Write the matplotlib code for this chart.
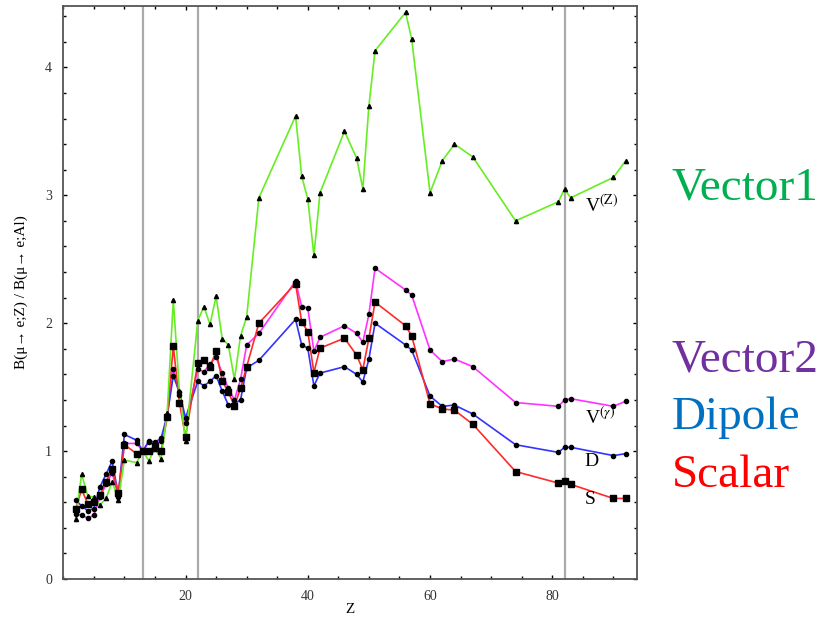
import numpy as np
import matplotlib
matplotlib.use("Agg")
import matplotlib.pyplot as plt
from matplotlib.ticker import MultipleLocator, FixedLocator

plt.rcParams['font.family'] = ['Liberation Serif', 'DejaVu Serif']
plt.rcParams['mathtext.fontset'] = 'stix'

# atomic numbers of the nuclei
Z = [2, 3, 4, 5, 6, 7, 8, 9, 10, 12, 13, 14, 15, 16, 17, 18, 19, 20, 22, 23,
     24, 25, 26, 27, 28, 29, 30, 32, 38, 39, 40, 41, 42, 46, 48, 49, 50, 51,
     56, 57, 60, 62, 64, 67, 74, 81, 82, 83, 90, 92]

# ratio B(mu->e;Z)/B(mu->e;Al) for each model
vec_z = [0.47, 0.82, 0.65, 0.64, 0.58, 0.63, 0.76, 0.62, 0.93, 0.91, 1.0, 0.925,
         1.02, 0.94, 1.30, 2.18, 1.47, 1.08, 2.02, 2.13, 1.99, 2.21, 1.88, 1.83,
         1.56, 1.90, 2.05, 2.98, 3.62, 3.15, 2.97, 2.53, 3.02, 3.50, 3.29, 3.05,
         3.70, 4.13, 4.43, 4.22, 3.02, 3.27, 3.40, 3.30, 2.80, 2.95, 3.05, 2.98,
         3.14, 3.27]
vec_g = [0.51, 0.50, 0.475, 0.50, 0.64, 0.74, 0.83, 0.64, 1.06, 1.06, 1.0, 1.07,
         1.05, 1.08, 1.27, 1.64, 1.44, 1.22, 1.64, 1.62, 1.68, 1.735, 1.61, 1.49,
         1.40, 1.56, 1.83, 1.92, 2.33, 2.13, 2.12, 1.78, 1.89, 1.98, 1.92, 1.85,
         2.07, 2.43, 2.26, 2.22, 1.79, 1.70, 1.72, 1.66, 1.38, 1.35, 1.40, 1.41,
         1.35, 1.39]
dipole = [0.62, 0.57, 0.535, 0.55, 0.72, 0.82, 0.92, 0.66, 1.13, 1.085, 1.0, 1.08,
          1.07, 1.10, 1.28, 1.59, 1.46, 1.26, 1.545, 1.51, 1.545, 1.59, 1.47, 1.36,
          1.37, 1.40, 1.65, 1.71, 2.03, 1.83, 1.805, 1.51, 1.61, 1.66, 1.60, 1.54,
          1.72, 2.00, 1.83, 1.79, 1.43, 1.35, 1.36, 1.29, 1.05, 0.99, 1.03, 1.03,
          0.965, 0.98]
scalar = [0.545, 0.70, 0.59, 0.605, 0.657, 0.76, 0.858, 0.675, 1.05, 0.98, 1.0, 1.0,
          1.04, 1.0, 1.265, 1.82, 1.38, 1.11, 1.69, 1.71, 1.66, 1.78, 1.55, 1.46,
          1.356, 1.49, 1.66, 2.0, 2.31, 2.01, 1.935, 1.614, 1.805, 1.883, 1.75, 1.635,
          1.883, 2.165, 1.98, 1.90, 1.37, 1.33, 1.32, 1.21, 0.84, 0.75, 0.77, 0.74,
          0.63, 0.63]

# Al, Ti, Pb
marked_Z = [13, 22, 82]

x_ticks = [20, 40, 60, 80]
y_ticks = [0, 1, 2, 3, 4]

fig = plt.figure(figsize=(8.25, 6.19), dpi=100)
ax = fig.add_axes([0.0767, 0.0646, 0.695, 0.9257])

for zz in marked_Z:
    ax.axvline(zz, color='#aaaaaa', lw=1.6, zorder=1)

ax.plot(Z, vec_g, color='#ff33ff', lw=1.2, zorder=2)
ax.plot(Z, dipole, color='#3333ff', lw=1.2, zorder=2)
ax.plot(Z, scalar, color='#ff2a2a', lw=1.2, zorder=3)
ax.plot(Z, vec_z, color='#66ee22', lw=1.2, zorder=3)

ax.plot(Z, vec_g, 'o', color='black', ms=3.0, ls='none', zorder=4)
ax.plot(Z, dipole, 'o', color='black', ms=3.0, ls='none', zorder=4)
ax.plot(Z, scalar, 's', color='black', ms=4.6, ls='none', zorder=5)
ax.plot(Z, vec_z, '^', color='black', ms=3.0, ls='none', zorder=5)

ax.set_xlim(0, 93.8)
ax.set_ylim(0, 4.48)
ax.xaxis.set_major_locator(FixedLocator(x_ticks))
ax.xaxis.set_minor_locator(MultipleLocator(5))
ax.yaxis.set_major_locator(FixedLocator(y_ticks))
ax.yaxis.set_minor_locator(MultipleLocator(0.2))
ax.tick_params(which='both', direction='in', top=True, right=True,
               labelsize=10, labelcolor='#333333', pad=8)
ax.tick_params(which='major', length=3, width=1)
ax.tick_params(which='minor', length=2, width=1)
for s in ax.spines.values():
    s.set_color('#555555')
    s.set_linewidth(1.3)

ax.set_xlabel('Z', fontsize=11, labelpad=0)
ax.set_ylabel('B(μ→ e;Z) / B(μ→ e;Al)', fontsize=11, labelpad=12)

ax.text(85.3, 2.93, r'V$^{\rm (Z)}$', fontsize=14, ha='left', va='center')
ax.text(85.3, 1.27, r'V$^{(\gamma)}$', fontsize=14, ha='left', va='center')
ax.text(85.3, 0.92, 'D', fontsize=14, ha='left', va='center')
ax.text(85.3, 0.62, 'S', fontsize=14, ha='left', va='center')

# model names on the right
fig.text(672 / 825, 1 - 188 / 619, 'Vector1', color='#00b050', fontsize=34, va='center')
fig.text(672 / 825, 1 - 360 / 619, 'Vector2', color='#7030a0', fontsize=34, va='center')
fig.text(672 / 825, 1 - 418 / 619, 'Dipole', color='#0070c0', fontsize=34, va='center')
fig.text(672 / 825, 1 - 476 / 619, 'Scalar', color='#ff0000', fontsize=34, va='center')

fig.savefig('out.png', dpi=100)
